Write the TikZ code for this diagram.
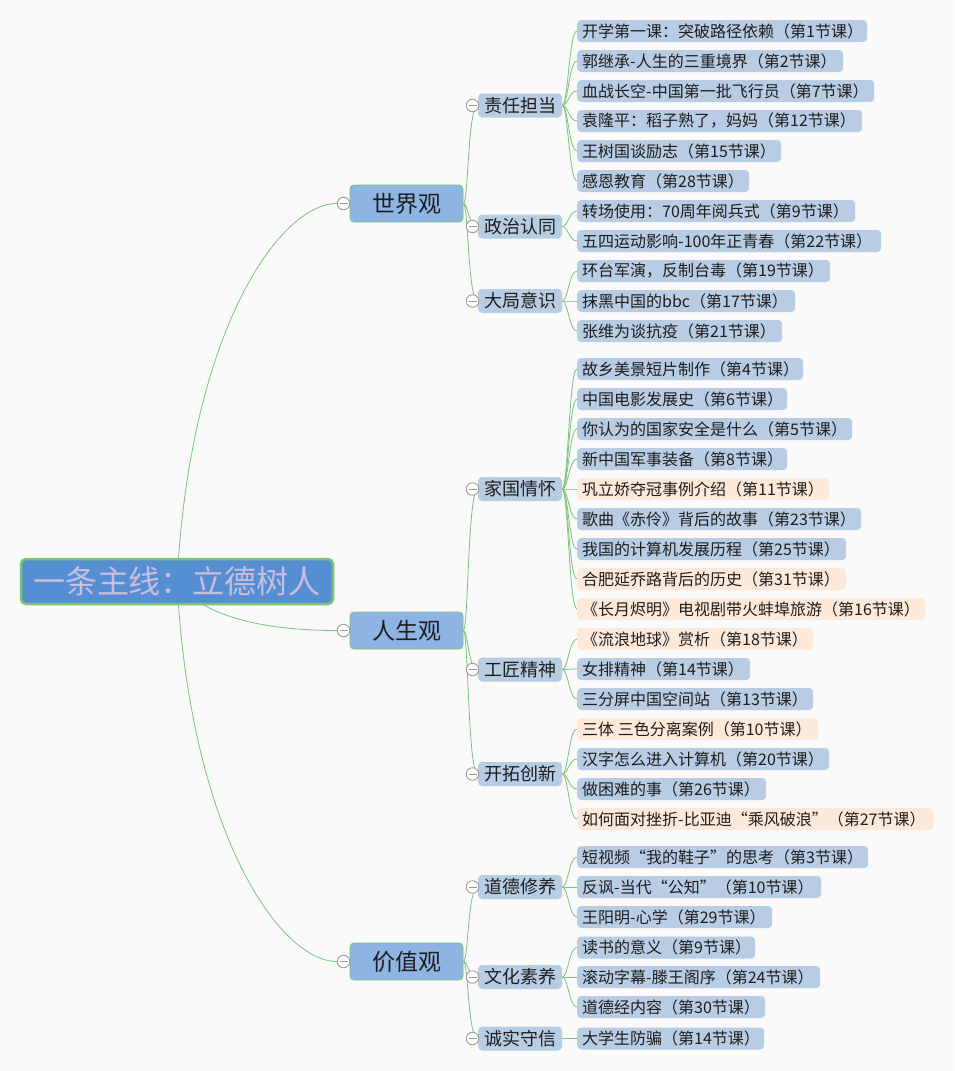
\documentclass[tikz,border=0pt]{standalone}
\usepackage{fontspec}
\setmainfont{Noto Sans CJK SC}
\usetikzlibrary{calc}
\pgfdeclarelayer{back}
\pgfdeclarelayer{bg}
\pgfsetlayers{back,bg,main}
\definecolor{bgc}{RGB}{250,250,250}
\definecolor{leafblue}{RGB}{184,204,228}
\definecolor{leafpeach}{RGB}{253,233,217}
\definecolor{onefill}{RGB}{141,180,226}
\definecolor{rootfill}{RGB}{86,142,212}
\definecolor{greenline}{RGB}{122,196,122}
\definecolor{roottext}{RGB}{200,190,222}
\definecolor{txt}{RGB}{30,30,30}
\definecolor{togc}{RGB}{150,150,150}
\newcommand\leafn[5]{%
  \pgfmathsetmacro\lw{#3-587}%
  \node[leaf,#4] (#1) at (577,#2) {\makebox[\lw pt][l]{#5}};}
\newcommand\linkn[2]{\draw[conn] (#1.east) .. controls +(6,0) and +(-8,0) .. (#2.west);}
\newcommand\linkm[2]{\draw[conn] (#1.east) .. controls +(5,0) and +(-10,0) .. (#2.west);}
\begin{document}
\begin{tikzpicture}[x=1pt,y=-1pt,
  leaf/.style={anchor=west, rounded corners=4pt, inner xsep=5pt, inner ysep=0pt,
    minimum height=22pt, font=\fontsize{16}{19}\selectfont, text=txt},
  lb/.style={fill=leafblue},
  lp/.style={fill=leafpeach},
  lvtwo/.style={fill=leafblue, rounded corners=4pt, minimum width=84pt, minimum height=24pt,
    inner sep=0pt, font=\fontsize{18}{21}\selectfont, text=txt},
  lvone/.style={fill=onefill, draw=greenline, line width=0.8pt, rounded corners=4pt,
    minimum width=113pt, minimum height=37pt, inner sep=0pt,
    font=\fontsize{23}{26}\selectfont, text=txt},
  rootn/.style={fill=rootfill, draw=greenline, line width=2.5pt, rounded corners=5pt,
    minimum width=312pt, minimum height=45pt, inner sep=0pt,
    font=\fontsize{32}{36}\selectfont, text=roottext},
  tog/.style={circle, draw=togc, fill=white, line width=0.8pt, minimum size=12.5pt, inner sep=0pt,
    path picture={\draw[togc, line width=0.9pt] ([xshift=-4pt]path picture bounding box.center) -- ([xshift=4pt]path picture bounding box.center);}},
  conn/.style={draw=greenline, line width=0.8pt}
]
\begin{pgfonlayer}{back}
\fill[bgc] (0,0) rectangle (954,1071);
\end{pgfonlayer}
\useasboundingbox (0,0) rectangle (954,1071);

% root
\node[rootn] (R) at (177,581.5) {一条主线：立德树人};

% level one
\node[lvone] (A) at (406.5,203.5) {世界观};
\node[lvone] (B) at (406.5,630.5) {人生观};
\node[lvone] (C) at (406.5,961.5) {价值观};

% level two
\node[lvtwo] (a1) at (520,105.5) {责任担当};
\node[lvtwo] (a2) at (520,226.5) {政治认同};
\node[lvtwo] (a3) at (520,301) {大局意识};
\node[lvtwo] (b1) at (520,489) {家国情怀};
\node[lvtwo] (b2) at (520,669.5) {工匠精神};
\node[lvtwo] (b3) at (520,774) {开拓创新};
\node[lvtwo] (c1) at (520,887) {道德修养};
\node[lvtwo] (c2) at (520,977) {文化素养};
\node[lvtwo] (c3) at (520,1038.5) {诚实守信};

% leaves
\leafn{l1}{31}{867}{lb}{开学第一课：突破路径依赖（第1节课）}
\leafn{l2}{61}{843}{lb}{郭继承-人生的三重境界（第2节课）}
\leafn{l3}{91}{874}{lb}{血战长空-中国第一批飞行员（第7节课）}
\leafn{l4}{121}{862}{lb}{袁隆平：稻子熟了，妈妈（第12节课）}
\leafn{l5}{151}{781}{lb}{王树国谈励志（第15节课）}
\leafn{l6}{181}{749}{lb}{感恩教育（第28节课）}
\leafn{l7}{211}{855}{lb}{转场使用：70周年阅兵式（第9节课）}
\leafn{l8}{241}{881}{lb}{五四运动影响-100年正青春（第22节课）}
\leafn{l9}{271}{830}{lb}{环台军演，反制台毒（第19节课）}
\leafn{l10}{301}{795}{lb}{抹黑中国的bbc（第17节课）}
\leafn{l11}{331}{782}{lb}{张维为谈抗疫（第21节课）}
\leafn{l12}{369}{803}{lb}{故乡美景短片制作（第4节课）}
\leafn{l13}{399}{787}{lb}{中国电影发展史（第6节课）}
\leafn{l14}{429}{852}{lb}{你认为的国家安全是什么（第5节课）}
\leafn{l15}{459}{787}{lb}{新中国军事装备（第8节课）}
\leafn{l16}{489}{829}{lp}{巩立娇夺冠事例介绍（第11节课）}
\leafn{l17}{519}{861}{lb}{歌曲《赤伶》背后的故事（第23节课）}
\leafn{l18}{549}{846}{lb}{我国的计算机发展历程（第25节课）}
\leafn{l19}{579}{846}{lp}{合肥延乔路背后的历史（第31节课）}
\leafn{l20}{609}{925}{lp}{《长月烬明》电视剧带火蚌埠旅游（第16节课）}
\leafn{l21}{639}{813}{lp}{《流浪地球》赏析（第18节课）}
\leafn{l22}{669}{750}{lb}{女排精神（第14节课）}
\leafn{l23}{699}{813}{lb}{三分屏中国空间站（第13节课）}
\leafn{l24}{729}{818}{lp}{三体 三色分离案例（第10节课）}
\leafn{l25}{759}{829}{lb}{汉字怎么进入计算机（第20节课）}
\leafn{l26}{789}{766}{lb}{做困难的事（第26节课）}
\leafn{l27}{819}{933}{lp}{如何面对挫折-比亚迪“乘风破浪”（第27节课）}
\leafn{l28}{857}{868}{lb}{短视频“我的鞋子”的思考（第3节课）}
\leafn{l29}{887}{821}{lb}{反讽-当代“公知”（第10节课）}
\leafn{l30}{917}{772}{lb}{王阳明-心学（第29节课）}
\leafn{l31}{947.5}{755}{lb}{读书的意义（第9节课）}
\leafn{l32}{977}{820}{lb}{滚动字幕-滕王阁序（第24节课）}
\leafn{l33}{1007}{765}{lb}{道德经内容（第30节课）}
\leafn{l34}{1038.5}{764}{lb}{大学生防骗（第14节课）}

% toggles
\node[tog] (tA) at (343.5,203.5) {};
\node[tog] (tB) at (343.5,630.5) {};
\node[tog] (tC) at (343.5,961.5) {};
\node[tog] (ta1) at (472.5,105.5) {};
\node[tog] (ta2) at (472.5,226.5) {};
\node[tog] (ta3) at (472.5,301) {};
\node[tog] (tb1) at (472.5,489) {};
\node[tog] (tb2) at (472.5,669.5) {};
\node[tog] (tb3) at (472.5,774) {};
\node[tog] (tc1) at (472.5,887) {};
\node[tog] (tc2) at (472.5,977) {};
\node[tog] (tc3) at (472.5,1038.5) {};

\begin{pgfonlayer}{bg}
% root to level one
\draw[conn] (R.center) .. controls (190,330) and (280,203.5) .. (tA.west);
\draw[conn] (R.center) .. controls (200,615) and (260,630.5) .. (tB.west);
\draw[conn] (R.center) .. controls (190,833) and (280,961.5) .. (tC.west);
% level one to level two
\linkm{A}{a1}\linkm{A}{a2}\linkm{A}{a3}
\linkm{B}{b1}\linkm{B}{b2}\linkm{B}{b3}
\linkm{C}{c1}\linkm{C}{c2}\linkm{C}{c3}
% level two to leaves
\linkn{a1}{l1}\linkn{a1}{l2}\linkn{a1}{l3}\linkn{a1}{l4}\linkn{a1}{l5}\linkn{a1}{l6}
\linkn{a2}{l7}\linkn{a2}{l8}
\linkn{a3}{l9}\linkn{a3}{l10}\linkn{a3}{l11}
\linkn{b1}{l12}\linkn{b1}{l13}\linkn{b1}{l14}\linkn{b1}{l15}\linkn{b1}{l16}
\linkn{b1}{l17}\linkn{b1}{l18}\linkn{b1}{l19}\linkn{b1}{l20}
\linkn{b2}{l21}\linkn{b2}{l22}\linkn{b2}{l23}
\linkn{b3}{l24}\linkn{b3}{l25}\linkn{b3}{l26}\linkn{b3}{l27}
\linkn{c1}{l28}\linkn{c1}{l29}\linkn{c1}{l30}
\linkn{c2}{l31}\linkn{c2}{l32}\linkn{c2}{l33}
\linkn{c3}{l34}
\end{pgfonlayer}
\end{tikzpicture}
\end{document}
